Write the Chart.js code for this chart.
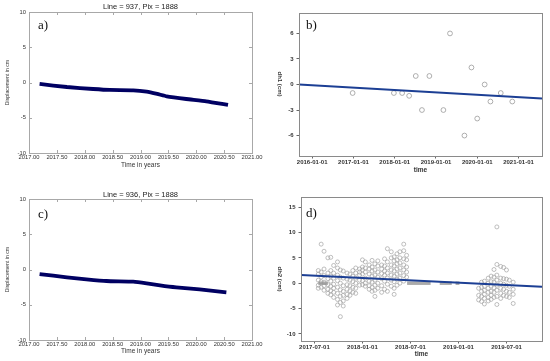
<!DOCTYPE html>
<html>
<head>
<meta charset="utf-8">
<script src="https://cdn.jsdelivr.net/npm/chart.js@4.4.1/dist/chart.umd.min.js"></script>
<style>
  html, body { margin: 0; padding: 0; background: #fff; }
  #wrap { position: relative; width: 550px; height: 361px; overflow: hidden; background: #fff; }
  #wrap canvas { position: absolute; }
</style>
</head>
<body>
<div id="wrap">
  <canvas id="panelA" width="275" height="171" style="left:0;top:0"></canvas>
  <canvas id="panelB" width="275" height="175" style="left:275px;top:0"></canvas>
  <canvas id="panelC" width="275" height="178" style="left:0;top:180px"></canvas>
  <canvas id="panelD" width="275" height="181" style="left:275px;top:180px"></canvas>
</div>
<script>
// a) / c) displacement series, decimal years vs cm
const aYears = [2017.19, 2017.68, 2018.15, 2018.45, 2018.87, 2019.11, 2019.30, 2019.47, 2019.82, 2020.18, 2020.57];
const aDisp  = [-0.21, -0.64, -0.92, -1.06, -1.11, -1.30, -1.62, -1.96, -2.34, -2.67, -3.19];
const cYears = [2017.19, 2017.68, 2018.03, 2018.39, 2018.87, 2019.11, 2019.35, 2019.64, 2020.06, 2020.54];
const cDisp  = [-0.64, -1.11, -1.39, -1.63, -1.73, -1.96, -2.25, -2.53, -2.81, -3.24];
const yearTicks = [2017, 2017.5, 2018, 2018.5, 2019, 2019.5, 2020, 2020.5, 2021];
const dispTicks = [-10, -5, 0, 5, 10];

// b) dh1 observations + trend
const bYears = [2016.98, 2017.98, 2018.18, 2018.35, 2018.51, 2018.66, 2018.84, 2019.18, 2019.34, 2019.69, 2019.86, 2020.00, 2020.18, 2020.32, 2020.57, 2020.85];
const bDh    = [-1, -1, -1, -1.33, 1, -3, 1, -3, 6, -6, 2, -4, 0, -2, -1, -2];
const bTrendX = [2015.68, 2021.57];
const bTrendY = [0, -1.65];
const bXTicks = [2016, 2017, 2018, 2019, 2020, 2021];
const bXLabels = ['2016-01-01', '2017-01-01', '2018-01-01', '2019-01-01', '2020-01-01', '2021-01-01'];
const bYTicks = [-6, -3, 0, 3, 6];

// d) dh2 observations per acquisition date
const dDates1 = [2017.54, 2017.57, 2017.60, 2017.64, 2017.67, 2017.70, 2017.74, 2017.77, 2017.80, 2017.84,
                 2017.87, 2017.90, 2017.93, 2017.97, 2018.00, 2018.03, 2018.07, 2018.10, 2018.13, 2018.16,
                 2018.20, 2018.23, 2018.26, 2018.30, 2018.33, 2018.36, 2018.39, 2018.43, 2018.46];
const dVals1 = [
  [2.5, 1.8, 0.6, -0.4, -1.0],
  [7.7, 2.2, 1.2, 0.3, -0.8],
  [6.3, 2.8, 1.5, 0.2, -0.5, -1.4],
  [5.0, 2.0, 0.9, -0.3, -1.2, -2.0],
  [5.1, 2.5, 1.4, 0.4, -0.6, -1.5, -2.3],
  [3.5, 2.0, 1.0, -0.2, -1.0, -1.8, -2.8],
  [4.2, 3.0, 1.6, 0.5, -0.8, -2.0, -3.2, -4.3],
  [2.6, 1.2, 0.0, -1.3, -2.6, -3.8, -6.6],
  [2.4, 1.0, -0.5, -1.6, -2.4, -3.5, -4.5],
  [2.0, 0.8, -0.3, -1.2, -2.2, -3.0],
  [1.8, 0.6, -0.5, -1.5, -2.4],
  [2.5, 1.4, 0.3, -0.8, -1.8],
  [3.0, 2.0, 1.0, 0.0, -1.0, -2.0],
  [2.8, 2.2, 1.6, 0.6, -0.4],
  [4.6, 3.2, 2.6, 1.8, 0.5, -0.3],
  [4.2, 3.0, 2.2, 1.0, 0.0, -0.6],
  [3.6, 2.8, 1.8, 0.4, -0.5, -1.2],
  [4.5, 3.2, 2.4, 1.4, 0.2, -0.8, -1.6],
  [3.8, 2.6, 1.6, 0.6, -0.4, -1.4, -2.6],
  [4.4, 3.4, 2.2, 1.2, 0.0, -1.0],
  [3.6, 2.8, 1.9, 0.9, -0.5, -1.8],
  [4.8, 3.4, 2.4, 1.6, 0.4, -1.2],
  [6.8, 4.2, 3.0, 2.0, 1.0, -0.2, -1.6],
  [6.2, 5.0, 3.6, 2.6, 1.6, 0.6, -0.6],
  [5.2, 4.4, 3.4, 2.4, 1.4, 0.3, -1.0, -2.2],
  [5.8, 4.6, 3.8, 2.8, 1.8, 0.8, -0.4],
  [6.2, 5.0, 4.0, 3.0, 2.0, 1.0, 0.0],
  [7.7, 6.4, 4.8, 3.6, 2.6, 1.5, 0.4],
  [5.5, 4.6, 3.2, 2.2, 1.2]
];
const dDates2 = [2019.21, 2019.24, 2019.27, 2019.31, 2019.34, 2019.37, 2019.40, 2019.44, 2019.47, 2019.50, 2019.53, 2019.57];
const dVals2 = [
  [-1.0, -2.4, -3.3],
  [0.2, -0.8, -1.6, -2.6, -3.6],
  [0.4, -0.6, -1.4, -2.2, -3.0, -4.1],
  [1.0, 0.0, -1.0, -1.8, -2.8, -3.5],
  [1.4, 0.3, -0.6, -1.6, -2.4, -3.2],
  [2.7, 1.2, 0.2, -0.9, -1.8, -2.8],
  [11.1, 3.7, 1.6, 0.6, -0.4, -1.4, -2.6, -4.2],
  [3.3, 1.0, 0.0, -1.0, -2.0, -3.0],
  [3.1, 0.9, -0.2, -1.2, -2.4],
  [2.6, 0.8, -0.4, -1.6, -2.6],
  [0.6, -0.6, -1.8, -2.8],
  [0.2, -1.2, -2.2, -4.0]
];
// dense runs of zero readings (overlapping circles)
const dZeroRuns = [[2017.54, 2017.64], [2018.465, 2018.71], [2018.805, 2018.93], [2018.97, 2019.01]];
const dTrendX = [2017.36, 2019.87];
const dTrendY = [1.64, -0.72];
const dXTicks = [2017.5, 2018, 2018.5, 2019, 2019.5];
const dXLabels = ['2017-07-01', '2018-01-01', '2018-07-01', '2019-01-01', '2019-07-01'];
const dYTicks = [-10, -5, 0, 5, 10, 15];

const NARROW = "'Liberation Sans Narrow', 'Liberation Sans', sans-serif";
const SANS = "'Liberation Sans', Arial, sans-serif";

const pts = (xs, ys) => xs.map((x, i) => ({ x, y: ys[i] }));
const fix = arr => s => { s.ticks = arr.map(v => ({ value: v })); };

// frame, panel letter, title, custom y title
function decor(cfg) {
  return {
    id: 'decor',
    afterDraw(chart) {
      const { ctx, chartArea: a, scales } = chart;
      ctx.save();
      const L = Math.round(a.left) + 0.5, T = Math.round(a.top) + 0.5;
      const W = Math.round(a.right) - Math.round(a.left), H = Math.round(a.bottom) - Math.round(a.top);
      ctx.strokeStyle = cfg.frame;
      ctx.lineWidth = 1;
      ctx.strokeRect(L, T, W, H);
      if (cfg.innerTicks) {
        ctx.beginPath();
        scales.x.ticks.forEach(t => {
          const px = Math.round(scales.x.getPixelForValue(t.value)) + 0.5;
          ctx.moveTo(px, a.bottom); ctx.lineTo(px, a.bottom - 3);
          ctx.moveTo(px, a.top); ctx.lineTo(px, a.top + 3);
        });
        scales.y.ticks.forEach(t => {
          const py = Math.round(scales.y.getPixelForValue(t.value)) + 0.5;
          ctx.moveTo(a.left, py); ctx.lineTo(a.left + 3, py);
          ctx.moveTo(a.right, py); ctx.lineTo(a.right - 3, py);
        });
        ctx.stroke();
      }
      ctx.fillStyle = '#111';
      ctx.textBaseline = 'middle';
      ctx.textAlign = 'left';
      ctx.font = "13px 'Liberation Serif', serif";
      ctx.fillText(cfg.letter, a.left + cfg.letterDx, a.top + cfg.letterDy);
      if (cfg.title) {
        ctx.textAlign = 'center';
        ctx.fillStyle = '#222';
        ctx.font = '7.5px ' + SANS;
        ctx.fillText(cfg.title, (a.left + a.right) / 2, cfg.titleY);
      }
      if (cfg.yTitle) {
        ctx.translate(cfg.yTitleX, cfg.yTitleY);
        ctx.rotate(Math.PI / 2);
        ctx.textAlign = 'center';
        ctx.fillStyle = '#333';
        ctx.font = 'bold 6px ' + SANS;
        ctx.fillText(cfg.yTitle, 0, 0);
      }
      ctx.restore();
    }
  };
}

function dispChart(id, xs, ys, cfg) {
  new Chart(document.getElementById(id), {
    type: 'line',
    data: {
      datasets: [{
        data: pts(xs, ys),
        borderColor: '#000062',
        borderWidth: 3.8,
        pointRadius: 0,
        tension: 0.15,
        borderCapStyle: 'butt'
      }]
    },
    options: {
      responsive: false,
      animation: false,
      events: [],
      layout: { padding: { left: 0, right: 23, top: cfg.top, bottom: 0 } },
      plugins: { legend: { display: false }, tooltip: { enabled: false } },
      scales: {
        x: {
          type: 'linear', min: 2017, max: 2021,
          afterBuildTicks: fix(yearTicks),
          afterFit: s => { s.height = cfg.xh; },
          grid: { display: false, drawTicks: false },
          border: { display: false },
          ticks: { padding: 1, maxRotation: 0, autoSkip: false, color: '#333',
                   font: { family: NARROW, size: 5.8 }, callback: v => v.toFixed(2) },
          title: { display: true, text: 'Time in years', color: '#333',
                   font: { family: SANS, size: 6.5 }, padding: { top: 0, bottom: cfg.xtPad } }
        },
        y: {
          min: -10, max: 10,
          afterBuildTicks: fix(dispTicks),
          afterFit: s => { s.width = 29; },
          grid: { display: false, drawTicks: false },
          border: { display: false },
          ticks: { padding: 3, color: '#333', font: { family: NARROW, size: 5.8 } },
          title: { display: true, text: 'Displacement in cm', color: '#333',
                   font: { family: SANS, size: 5.2 }, padding: { top: 4.5, bottom: 0 } }
        }
      }
    },
    plugins: [decor({ frame: '#a8a8a8', innerTicks: true, letter: cfg.letter, letterDx: 9, letterDy: cfg.letterDy,
                      title: cfg.title, titleY: cfg.titleY })]
  });
}

function spssScales(o) {
  const tickFont = { family: SANS, size: 6, weight: 'bold', lineHeight: 1 };
  return {
    x: {
      type: 'linear', min: o.xmin, max: o.xmax,
      afterBuildTicks: fix(o.xTicks),
      afterFit: s => { s.height = o.xh; },
      grid: { display: true, drawOnChartArea: false, drawTicks: true, tickLength: 2.5, color: '#666' },
      border: { display: false },
      ticks: { padding: 1, maxRotation: 0, autoSkip: false, color: '#333', font: tickFont,
               callback: (v, i) => o.xLabels[i] },
      title: { display: true, text: 'time', color: '#333',
               font: { family: SANS, size: 6.5, weight: 'bold' }, padding: { top: 0, bottom: o.xtPad } }
    },
    y: {
      min: o.ymin, max: o.ymax,
      afterBuildTicks: fix(o.yTicks),
      afterFit: s => { s.width = o.yw; },
      grid: { display: true, drawOnChartArea: false, drawTicks: true, tickLength: 2.5, color: '#666' },
      border: { display: false },
      ticks: { padding: 3, color: '#333', font: tickFont }
    }
  };
}

dispChart('panelA', aYears, aDisp, { top: 12, xh: 18, xtPad: 2, letter: 'a)', letterDy: 14, title: 'Line = 937, Pix = 1888', titleY: 7.3 });
dispChart('panelC', cYears, cDisp, { top: 19, xh: 18, xtPad: 2.5, letter: 'c)', letterDy: 16, title: 'Line = 936, Pix = 1888', titleY: 15 });

new Chart(document.getElementById('panelB'), {
  type: 'scatter',
  data: {
    datasets: [
      { type: 'line', data: pts(bTrendX, bTrendY), borderColor: '#1c3f94', borderWidth: 2, pointRadius: 0, order: 0 },
      { data: pts(bYears, bDh), pointRadius: 2.4, borderWidth: 0.8, borderColor: '#9a9a9a',
        backgroundColor: 'rgba(255,255,255,0)', order: 1 }
    ]
  },
  options: {
    responsive: false, animation: false, events: [],
    layout: { padding: { left: 0, right: 8, top: 13, bottom: 0 } },
    plugins: { legend: { display: false }, tooltip: { enabled: false } },
    scales: spssScales({ xmin: 2015.68, xmax: 2021.57, xTicks: bXTicks, xLabels: bXLabels, xh: 19, xtPad: 1,
                         ymin: -8.4, ymax: 8.4, yTicks: bYTicks, yw: 24 })
  },
  plugins: [decor({ frame: '#8a8a8a', letter: 'b)', letterDx: 7, letterDy: 13,
                    yTitle: 'dh1 (cm)', yTitleX: 5, yTitleY: 84 })]
});

const dPoints = [
  ...dDates1.flatMap((x, i) => dVals1[i].map(y => ({ x, y }))),
  ...dDates2.flatMap((x, i) => dVals2[i].map(y => ({ x, y })))
];
const zeroSets = dZeroRuns.map(r => ({
  type: 'line', data: [{ x: r[0], y: 0 }, { x: r[1], y: 0 }],
  borderColor: 'rgba(150,150,150,0.8)', borderWidth: 3.5, pointRadius: 0, order: 1
}));

new Chart(document.getElementById('panelD'), {
  type: 'scatter',
  data: {
    datasets: [
      { type: 'line', data: pts(dTrendX, dTrendY), borderColor: '#1c3f94', borderWidth: 2, pointRadius: 0, order: 0 },
      ...zeroSets,
      { data: dPoints, pointRadius: 2, borderWidth: 0.7, borderColor: '#a4a4a4',
        backgroundColor: 'rgba(255,255,255,0)', order: 2 }
    ]
  },
  options: {
    responsive: false, animation: false, events: [],
    layout: { padding: { left: 0, right: 8, top: 17, bottom: 0 } },
    plugins: { legend: { display: false }, tooltip: { enabled: false } },
    scales: spssScales({ xmin: 2017.36, xmax: 2019.87, xTicks: dXTicks, xLabels: dXLabels, xh: 20, xtPad: 3,
                         ymin: -11.4, ymax: 17, yTicks: dYTicks, yw: 26 })
  },
  plugins: [decor({ frame: '#8a8a8a', letter: 'd)', letterDx: 5, letterDy: 17,
                    yTitle: 'dh2 (cm)', yTitleX: 5, yTitleY: 99 })]
});
</script>
</body>
</html>
